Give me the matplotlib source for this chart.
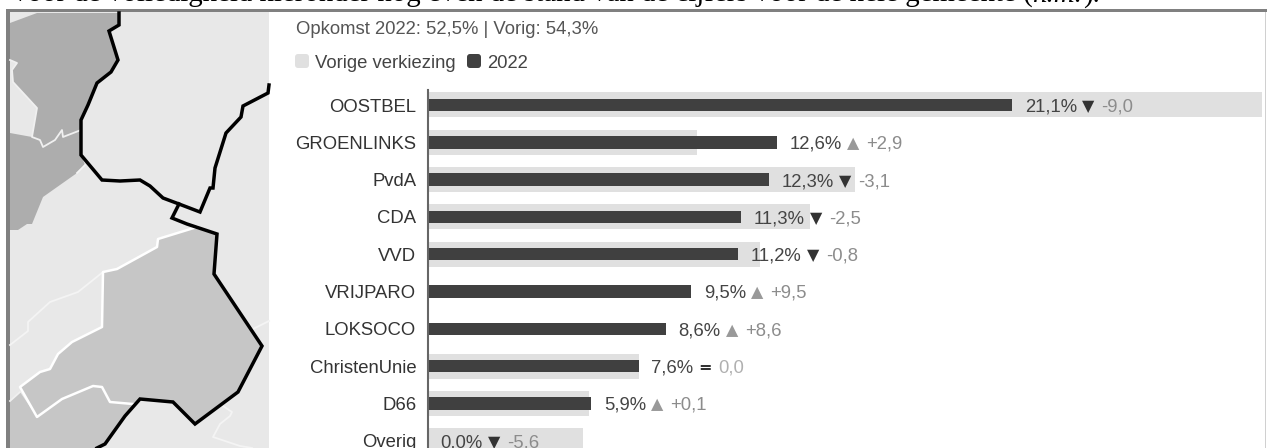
import matplotlib
matplotlib.use('Agg')
import matplotlib.pyplot as plt
from matplotlib.patches import Polygon, Rectangle, FancyBboxPatch

plt.rcParams['font.family'] = ['Liberation Sans', 'DejaVu Sans']

parties = ['OOSTBEL', 'GROENLINKS', 'PvdA', 'CDA', 'VVD', 'VRIJPARO', 'LOKSOCO',
           'ChristenUnie', 'D66', 'Overig']
current = [21.1, 12.6, 12.3, 11.3, 11.2, 9.5, 8.6, 7.6, 5.9, 0.0]
previous = [30.1, 9.7, 15.4, 13.8, 12.0, 0.0, 0.0, 7.6, 5.8, 5.6]
delta = ['-9,0', '+2,9', '-3,1', '-2,5', '-0,8', '+9,5', '+8,6', '0,0', '+0,1', '-5,6']
pct = ['21,1%', '12,6%', '12,3%', '11,3%', '11,2%', '9,5%', '8,6%', '7,6%', '5,9%', '0,0%']

# map shapes, in picture pixels
border_top = [(119, 13), (119, 25), (109, 31), (118, 60), (111, 72), (97, 83), (88, 105), (81, 120),
              (81, 155), (102, 180), (120, 181), (140, 180), (150, 186), (163, 198), (179, 204),
              (200, 212), (210, 188), (213, 188), (215, 168), (226, 133), (241, 117), (243, 106),
              (268, 93), (269, 85)]
border_low = [(179, 204), (172, 218), (187, 224), (217, 234), (214, 274), (262, 346), (238, 392),
              (195, 424), (173, 402), (140, 399), (125, 416), (105, 444), (97, 448)]
white_mid = [(197, 227), (158, 239), (157, 247), (117, 269), (103, 272), (102, 327), (72, 342),
             (58, 354), (50, 369), (40, 372), (20, 387), (37, 417), (62, 399), (93, 386),
             (102, 387), (110, 402), (133, 404)]
dark_top = [(10, 23), (37, 13), (119, 13), (119, 25), (109, 31), (118, 60), (111, 72), (97, 83),
            (88, 105), (81, 120), (81, 130), (63, 137), (62, 130), (55, 140), (43, 147), (40, 140),
            (32, 137), (37, 108), (13, 82), (12, 70), (17, 63), (10, 60)]
dark_left = [(10, 133), (32, 137), (40, 140), (43, 147), (55, 140), (62, 130), (63, 137), (81, 130),
             (81, 155), (85, 165), (77, 173), (43, 197), (32, 224), (27, 224), (18, 230), (10, 230)]
mid_left = [(10, 401), (20, 392), (37, 417), (62, 399), (93, 386), (102, 387), (110, 402), (133, 404),
            (140, 399), (125, 416), (105, 444), (97, 448), (10, 448)]
faint_a = [(10, 345), (28, 331), (28, 322), (50, 302), (78, 292), (103, 272)]
faint_b = [(223, 406), (232, 412), (230, 416), (220, 424), (213, 437), (240, 446), (252, 448)]
faint_c = [(253, 329), (269, 321)]
faint_d = [(77, 173), (85, 165)]

W, H = 1267, 448
DARK = '#404040'
LIGHT = '#e0e0e0'
scale = 27.7    # px per percent
row0, row_step = 105, 37.3
ax_top, ax_left = 90, 428
fs = 13.3

fig = plt.figure(figsize=(W/100, H/100), dpi=100)
bg = fig.add_axes([0, 0, 1, 1])
bg.set_xlim(0, W); bg.set_ylim(H, 0); bg.axis('off')

# frame
bg.add_patch(Rectangle((6, 9), W-6, 3.5, fc='#808080', ec='none'))
bg.add_patch(Rectangle((6, 9), 4, H-9, fc='#808080', ec='none'))
bg.add_patch(Rectangle((1265, 12), 1, H-12, fc='#d0d0d0', ec='none'))

# map
bg.add_patch(Rectangle((10, 12.5), 259, H-12.5, fc='#e8e8e8', ec='none'))
bg.add_patch(Polygon(dark_top, fc='#adadad', ec='none'))
bg.add_patch(Polygon(dark_left, fc='#adadad', ec='none'))
mid_main = white_mid + [(140, 399), (173, 402), (195, 424), (238, 392), (262, 346), (214, 274), (217, 234)]
bg.add_patch(Polygon(mid_main, fc='#c6c6c6', ec='none'))
bg.add_patch(Polygon(mid_left, fc='#c6c6c6', ec='none'))
for line in (faint_a, faint_b, faint_c, faint_d):
    bg.plot(*zip(*line), c='#f4f4f4', lw=1.3)
bg.plot(*zip(*dark_top[10:]), c='#f0f0f0', lw=1.3)
bg.plot(*zip(*white_mid), c='white', lw=1.8)
bg.plot([10, 20], [401, 392], c='#f0f0f0', lw=1.3)
bg.plot(*zip(*border_top), c='black', lw=2.5, solid_joinstyle='miter')
bg.plot(*zip(*border_low), c='black', lw=2.5, solid_joinstyle='miter')

# bars
ax = fig.add_axes([ax_left/W, 0, (W-ax_left)/W, (H-ax_top)/H])
ax.patch.set_alpha(0)
y = list(range(len(parties)))
ax.barh(y, previous, height=25/row_step, color=LIGHT, label='Vorige verkiezing')
ax.barh(y, current, height=12.5/row_step, color=DARK, label='2022')
ax.set_xlim(0, (W-ax_left)/scale)
ax.set_ylim((H-row0)/row_step, (ax_top-row0)/row_step)
ax.set_yticks(y, parties, fontsize=fs, color='#333333')
ax.tick_params(axis='y', length=0, pad=8.5)
ax.set_xticks([])
for s in ['top', 'right', 'bottom']:
    ax.spines[s].set_visible(False)
ax.spines['left'].set_color('#666666')
ax.spines['left'].set_linewidth(1.5)

# overlay for all the free text, above the bars
top = fig.add_axes([0, 0, 1, 1])
top.set_xlim(0, W); top.set_ylim(H, 0); top.axis('off')

fig.canvas.draw()
rend = fig.canvas.get_renderer()

def run(xpx, ypx, parts):
    # lay text pieces after each other, in pixels
    for s, c, gap, extra in parts:
        xpx += gap
        t = top.text(xpx, ypx, s, color=c, va='center_baseline', ha='left', **{'fontsize': fs, **extra})
        xpx += t.get_window_extent(rend).width

for i, p in enumerate(parties):
    if delta[i].startswith('+'):
        sym, col = '\u25b2', '#999999'
    elif delta[i].startswith('-'):
        sym, col = '\u25bc', '#333333'
    else:
        sym, col = '=', '#333333'
    extra = {'family': 'DejaVu Sans', 'fontsize': 11.5}
    if sym == '=':
        extra['fontweight'] = 'bold'
    dcol = '#b0b0b0' if sym == '=' else '#8c8c8c'
    x0 = ax_left + current[i]*scale + 12.5
    run(x0, row0 + i*row_step, [(pct[i], '#444444', 0, {}), (sym, col, 5, extra), (delta[i], dcol, 7, {})])

# heading texts
top.text(296, 27, 'Opkomst 2022: 52,5% | Vorig: 54,3%', fontsize=fs, color='#555555', va='center_baseline')
top.add_patch(FancyBboxPatch((297, 56), 10, 10, boxstyle='round,pad=2,rounding_size=3', fc=LIGHT, ec='none'))
top.text(315, 62, 'Vorige verkiezing', fontsize=fs, color='#444444', va='center_baseline')
top.add_patch(FancyBboxPatch((469, 56), 10, 10, boxstyle='round,pad=2,rounding_size=3', fc=DARK, ec='none'))
top.text(487, 62, '2022', fontsize=fs, color='#444444', va='center_baseline')

# sentence cut off by the top edge of the picture
serif = dict(family='Liberation Serif', fontsize=20.75, color='black', va='baseline')
t = top.text(13, 2, 'voor de volledigheid hieronder nog even de stand van de cijfers voor de hele gemeente (', **serif)
x = 13 + t.get_window_extent(rend).width
t = top.text(x, 2, 'n.m.', style='italic', **serif)
x += t.get_window_extent(rend).width
top.text(x, 2, ').', **serif)

fig.savefig('out.png', dpi=100)
